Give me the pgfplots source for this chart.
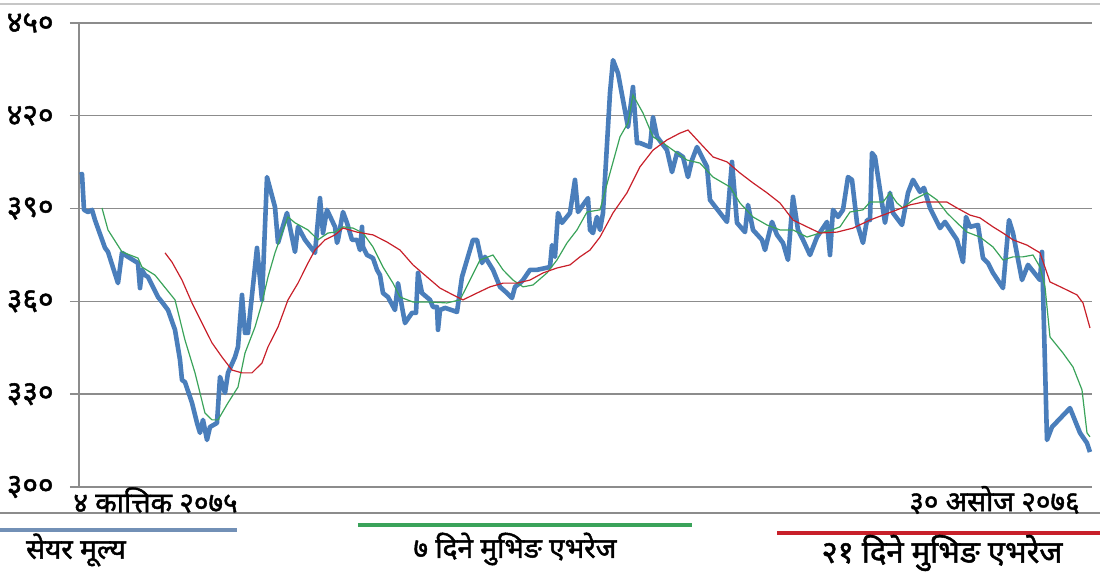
\documentclass[border=0pt]{standalone}
\usepackage{fontspec}
\newfontfamily\devfont[Script=Devanagari, FakeBold=1.6]{Noto Sans}
\usepackage{pgfplots}
\pgfplotsset{compat=1.18}
\definecolor{pricecol}{HTML}{4A7EBB}
\definecolor{pricelgd}{HTML}{7290B6}
\definecolor{macol}{HTML}{3AA35A}
\definecolor{malong}{HTML}{C8202A}
\definecolor{gridcol}{HTML}{8C8C8C}

% share price (x = trading-day position)
\pgfplotstableread{
x y
1 400.9
3 401.2
5 389.6
9 388.9
13 389.6
16 386.3
26 377.3
29 376.0
39 365.9
43 375.7
49 374.4
59 372.4
61 364.3
63 370.2
66 368.5
69 367.9
79 361.4
83 359.8
89 357.2
96 350.8
101 341.1
103 334.6
106 333.9
113 327.2
118 320.7
121 317.5
124 321.7
128 315.2
131 319.4
138 320.7
141 335.6
146 330.4
149 336.9
156 342.0
159 345.3
163 362.1
166 349.8
169 349.8
178 377.3
183 360.5
188 400.2
196 390.5
199 378.9
208 388.6
216 376.0
219 384.1
226 379.9
236 375.7
241 393.4
244 382.1
248 389.6
256 384.1
258 378.9
259 379.9
264 388.9
268 385.4
273 379.9
278 379.9
281 376.6
283 384.1
284 377.6
288 375.0
294 374.0
298 370.2
301 368.5
304 362.7
309 361.4
316 357.2
319 365.9
323 358.2
326 353.0
333 356.3
337 356.3
339 369.2
343 362.7
351 360.5
354 358.2
358 358.2
359 350.8
361 357.2
366 357.9
378 356.6
383 367.9
388 373.4
394 379.9
398 379.9
403 372.4
406 374.4
414 370.2
421 364.7
428 362.7
433 361.1
436 364.7
441 365.9
444 366.9
451 370.2
454 370.2
458 370.2
471 371.1
473 378.2
476 374.4
479 388.6
483 385.4
491 388.6
496 399.3
499 388.9
509 393.4
511 383.1
514 382.1
518 387.3
521 383.1
524 388.6
531 427.4
534 438.0
539 433.8
544 425.1
549 416.4
554 429.3
558 411.2
561 411.2
571 409.9
574 419.6
578 413.2
588 408.9
593 401.8
598 408.0
604 406.7
609 400.2
613 405.7
618 409.9
628 403.5
631 392.8
648 385.7
653 405.1
658 385.4
666 382.4
669 391.2
674 383.1
683 379.9
686 376.6
693 385.7
698 381.5
704 378.9
709 373.4
714 393.8
719 383.1
724 379.9
731 375.0
738 380.8
748 385.7
751 375.0
754 389.6
759 387.3
764 389.6
769 400.2
773 399.3
778 385.4
784 378.9
788 386.3
791 386.3
793 408.0
796 406.7
806 385.4
811 395.1
814 388.6
823 384.7
829 395.1
834 399.3
841 395.4
845 396.7
851 390.2
861 383.7
866 385.7
878 379.9
884 372.7
887 387.3
891 384.1
899 384.7
904 374.0
909 372.4
914 369.2
924 364.3
930 386.3
934 382.1
943 366.9
949 371.8
961 366.9
963 376.0
968 315.2
973 319.4
991 325.5
1001 317.5
1008 314.2
1011 311.3
}\price

% 7-day moving average
\pgfplotstableread{
x y
23 390.2
29 383.1
43 376.0
59 374.0
63 371.1
76 368.5
96 360.5
106 347.5
116 336.9
126 323.9
133 321.7
139 321.7
149 327.2
159 332.3
166 343.3
176 351.7
183 359.5
189 367.9
196 375.7
203 382.1
209 387.3
216 385.4
229 383.1
239 379.9
249 382.1
256 382.4
264 384.1
274 383.7
284 382.1
294 377.6
304 371.1
314 365.9
321 361.4
334 359.8
351 359.8
368 359.5
381 360.5
391 366.9
401 373.4
414 375.0
424 370.2
434 366.9
444 364.7
454 365.3
468 369.2
478 373.4
488 378.9
498 383.1
508 388.9
521 389.6
531 401.5
541 413.2
549 417.7
554 426.7
564 420.9
574 413.2
584 411.2
594 408.9
608 405.7
621 404.7
634 400.2
651 397.0
661 391.8
674 387.3
688 384.7
701 383.1
714 383.1
728 380.8
741 382.1
753 383.1
761 384.1
771 388.9
784 389.6
791 392.1
804 392.1
811 395.1
818 391.8
824 390.2
834 392.8
848 395.1
858 392.8
868 388.6
878 385.4
888 382.4
901 380.8
914 377.6
924 373.4
934 374.4
944 374.4
954 375.0
961 371.1
966 364.7
971 348.5
984 343.3
994 338.8
1003 331.4
1008 317.5
1011 316.2
}\maseven

% 21-day moving average
\pgfplotstableread{
x y
86 375.7
93 372.7
103 366.9
113 359.5
123 353.0
133 346.6
143 342.0
153 337.8
163 336.9
173 336.9
183 340.1
189 345.3
199 351.7
209 360.5
219 365.9
229 372.4
236 376.6
246 379.9
256 381.5
264 383.7
278 382.4
294 381.5
308 379.2
321 376.6
334 371.8
348 367.9
361 364.3
374 362.1
384 360.5
398 362.7
411 364.7
424 365.9
438 365.9
451 366.9
464 369.2
478 370.8
491 371.8
501 374.4
511 376.6
521 380.8
534 388.6
548 395.1
561 403.5
574 408.9
588 412.2
601 414.4
609 415.4
621 411.2
634 406.7
648 405.1
661 401.5
674 398.3
688 395.1
701 391.8
714 386.3
728 384.1
741 382.1
758 382.4
774 383.7
791 386.3
804 387.9
818 389.6
831 391.2
844 392.1
868 392.1
878 390.2
891 387.9
901 387.0
914 384.1
924 382.1
934 379.9
948 378.2
961 375.7
971 366.3
984 364.3
998 362.1
1004 359.5
1011 351.4
}\matwentyone

\begin{document}
\begin{tikzpicture}
\useasboundingbox (-39.5pt,-43pt) rectangle (510.5pt,243.5pt);
\begin{axis}[
  at={(0,0)}, anchor=south west,
  scale only axis, width=506.5pt, height=232pt,
  xmin=0, xmax=1013, ymin=300, ymax=450,
  axis lines*=left,
  axis line style={gridcol, line width=0.7pt},
  xtick=\empty,
  ytick={300,330,360,390,420,450},
  yticklabels={३००,३३०,३६०,३९०,४२०,४५०},
  tick align=outside,
  major tick length=4.5pt,
  tick style={gridcol, line width=0.7pt},
  ymajorgrids,
  grid style={gridcol, line width=0.7pt},
  yticklabel style={font=\devfont\fontsize{15}{15}\selectfont, anchor=east, inner sep=0pt, xshift=-8pt},
  clip=false,
]
\addplot[pricecol, line width=2.3pt, line join=round] table {\price};
\addplot[macol, line width=0.6pt] table {\maseven};
\addplot[malong, line width=0.6pt] table {\matwentyone};
\end{axis}
\draw[gridcol!50, line width=0.6pt] (-39.5pt,241.5pt) -- (510.5pt,241.5pt);
\draw[gridcol, line width=0.7pt] (-39.5pt,-13pt) -- (510.5pt,-13pt);
\node[anchor=west, inner sep=0pt, font=\devfont\fontsize{14}{14}\selectfont] at (-3pt,-6.5pt) {४ कात्तिक २०७५};
\node[anchor=east, inner sep=0pt, font=\devfont\fontsize{14}{14}\selectfont] at (500.5pt,-6.5pt) {३० असोज २०७६};
\draw[pricelgd, line width=2pt] (-39.5pt,-21.5pt) -- (79pt,-21.5pt);
\draw[macol, line width=2pt] (139.5pt,-19pt) -- (306.5pt,-19pt);
\draw[malong, line width=2pt] (349pt,-23pt) -- (510.5pt,-23pt);
\node[inner sep=0pt, font=\devfont\fontsize{14}{14}\selectfont] at (-1.5pt,-31.5pt) {सेयर मूल्य};
\node[inner sep=0pt, font=\devfont\fontsize{14}{14}\selectfont] at (218pt,-31pt) {७ दिने मुभिङ एभरेज};
\node[inner sep=0pt, font=\devfont\fontsize{15.5}{15.5}\selectfont] at (431.5pt,-33pt) {२१ दिने मुभिङ एभरेज};
\end{tikzpicture}
\end{document}
